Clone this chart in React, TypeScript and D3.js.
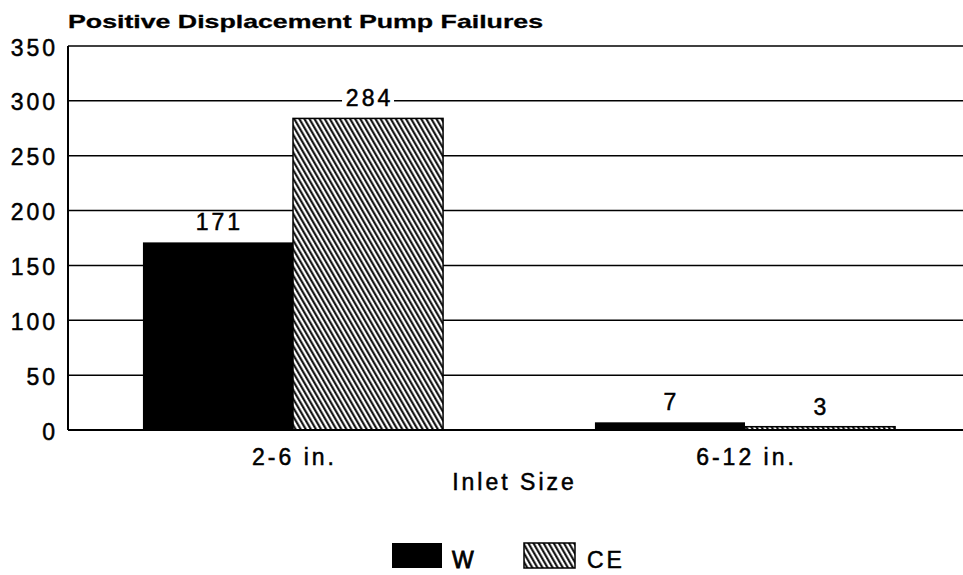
import { scaleBand, scaleLinear } from "d3";

const categories = ["2-6 in.", "6-12 in."];
const seriesNames = ["W", "CE"];
const wValues = [171, 7];
const ceValues = [284, 3];
const yTicks = [0, 50, 100, 150, 200, 250, 300, 350];

const W = 963;
const H = 575;
const FONT = "'Liberation Sans', Arial, Helvetica, sans-serif";
const LS = 3; // wide tracking of the old plotter font

export default function App() {
  const left = 68;
  const right = 963;
  const top = 46;
  const bottom = 430;

  const y = scaleLinear().domain([0, 350]).range([bottom, top]);
  const x0 = scaleBand<string>()
    .domain(categories)
    .range([67, 971])
    .paddingInner(0.336)
    .paddingOuter(0.168);
  const x1 = scaleBand<string>().domain(seriesNames).range([0, x0.bandwidth()]);

  const rows = categories.map((c, i) => ({ cat: c, vals: [wValues[i], ceValues[i]] }));

  const txt = { fill: "#000", stroke: "#000", strokeWidth: 0.5, fontSize: 23, letterSpacing: LS };

  return (
    <svg width={W} height={H} style={{ position: "absolute", left: 0, top: 0, background: "#fff" }}
      fontFamily={FONT}>
      <defs>
        <pattern id="hatch" patternUnits="userSpaceOnUse" width="4.4" height="10" patternTransform="rotate(-30)">
          <rect width="4.4" height="10" fill="#fff" />
          <line x1="1.2" y1="0" x2="1.2" y2="10" stroke="#000" strokeWidth="2" />
        </pattern>
      </defs>
      <rect width={W} height={H} fill="#fff" />

      <text x={68} y={28} fontSize={19} fontWeight="bold" fill="#000" stroke="#000" strokeWidth={0.3}
        textLength={475} lengthAdjust="spacingAndGlyphs">
        Positive Displacement Pump Failures
      </text>

      {/* gridlines */}
      {yTicks.map((t) => (
        <line key={t} x1={left} x2={right} y1={y(t)} y2={y(t)} stroke="#000" strokeWidth={t === 0 ? 2 : 1.5} />
      ))}
      {yTicks.map((t) => (
        <text key={"l" + t} x={55 + LS} y={y(t) + 9.5} textAnchor="end" {...txt}>
          {t}
        </text>
      ))}

      {/* bars */}
      {rows.map((r) => (
        <g key={r.cat} transform={`translate(${x0(r.cat)},0)`}>
          {r.vals.map((v, j) => (
            <rect key={j} x={x1(seriesNames[j])} y={y(v)} width={x1.bandwidth()} height={bottom - y(v)}
              fill={j === 0 ? "#000" : "url(#hatch)"} stroke="#000" strokeWidth={j === 0 ? 0 : 1.5} />
          ))}
          {r.vals.map((v, j) => {
            const cx = (x1(seriesNames[j]) ?? 0) + x1.bandwidth() / 2;
            const w = String(v).length * 16;
            return (
              <g key={"v" + j}>
                <rect x={cx - w / 2 - 2} y={y(v) - 30} width={w + 4} height={20} fill="#fff" />
                <text x={cx + LS / 2} y={y(v) - 12} textAnchor="middle" {...txt}>
                  {v}
                </text>
              </g>
            );
          })}
        </g>
      ))}

      {/* axes */}
      <line x1={left} x2={left} y1={top} y2={bottom} stroke="#000" strokeWidth={2} />
      <line x1={left} x2={right} y1={bottom} y2={bottom} stroke="#000" strokeWidth={2} />

      {categories.map((c) => (
        <text key={c} x={(x0(c) ?? 0) + x0.bandwidth() / 2 + LS / 2} y={465} textAnchor="middle" {...txt}>
          {c}
        </text>
      ))}
      <text x={513 + LS / 2} y={490} textAnchor="middle" {...txt}>
        Inlet Size
      </text>

      {/* legend */}
      <rect x={392} y={543} width={50} height={25} fill="#000" />
      <text x={452} y={568} {...txt} strokeWidth={0.8}>{seriesNames[0]}</text>
      <rect x={524} y={543} width={51} height={25} fill="url(#hatch)" stroke="#000" strokeWidth={1.5} />
      <text x={587} y={568} {...txt}>{seriesNames[1]}</text>
    </svg>
  );
}
